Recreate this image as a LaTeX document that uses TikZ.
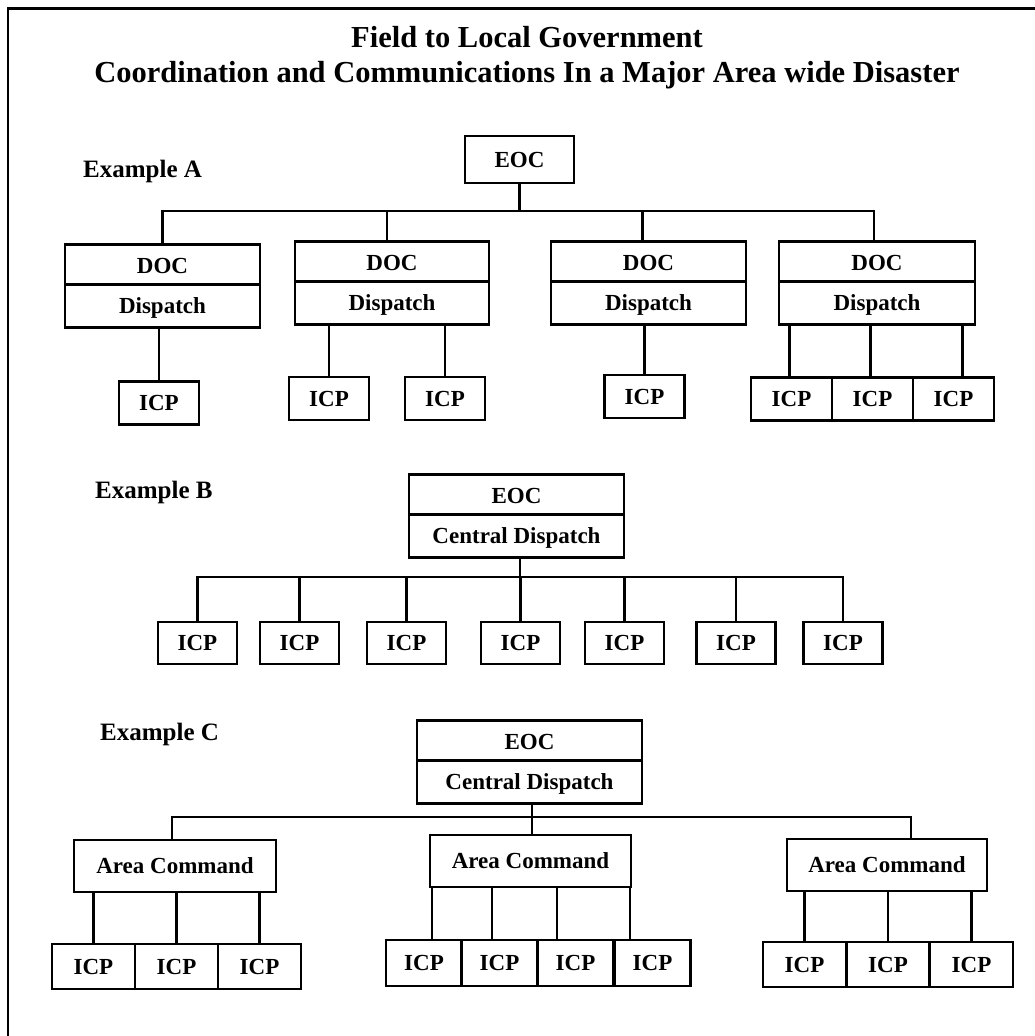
\documentclass[tikz,border=0pt]{standalone}
\usepackage{fontspec}
\setmainfont{Liberation Serif}
\usepackage{tikz}
\usetikzlibrary{shapes.multipart,positioning}
\newcommand{\pstrut}{\rule[-2pt]{0pt}{23pt}}
\tikzset{
  box/.style={draw, line width=2.6pt, text centered, inner sep=0pt,
  minimum height=43pt, font=\bfseries\fontsize{23pt}{23pt}\selectfont,
  text height=15.5pt, text depth=0pt},
  icp/.style={box, minimum width=80pt},
  data/.style={draw, line width=2.6pt, rectangle split,
	rectangle split parts=2, text centered, inner xsep=0pt, inner ysep=7.25pt,
	anchor=north, font=\bfseries\fontsize{23pt}{23pt}\selectfont},
  link/.style={line width=2.2pt},
  titletext/.style={font=\bfseries\fontsize{30.5pt}{30.5pt}\selectfont,
  anchor=base, inner sep=0pt},
  exlabel/.style={font=\bfseries\fontsize{25pt}{25pt}\selectfont,
  anchor=base west, inner sep=0pt}
}
\begin{document}
\begin{tikzpicture}[x=1pt,y=-1pt]
	\useasboundingbox (0,0) rectangle (1034,1036);
	\draw[line width=2.6pt] (8,1040) -- (8,8.5) -- (1040,8.5);
	\node[titletext] (t1) at (527,47) {Field to Local Government};
	\node[titletext] (t2) at (527,82) {Coordination and Communications In a Major Area wide Disaster};

	\node[exlabel] (la) at (83,177) {Example A};
	\node[box, minimum width=109pt, minimum height=47pt] (a0) at (519.5,159.5) {EOC};
	\node[data, minimum width=195pt] (a1) at (162.5,243) {\pstrut DOC \nodepart{two} \pstrut Dispatch};
	\node[data, minimum width=194pt] (a2) at (392,240) {\pstrut DOC \nodepart{two} \pstrut Dispatch};
	\node[data, minimum width=195pt] (a3) at (648.5,240) {\pstrut DOC \nodepart{two} \pstrut Dispatch};
	\node[data, minimum width=196pt] (a4) at (877,240) {\pstrut DOC \nodepart{two} \pstrut Dispatch};
	\coordinate (abus) at (519,211);
	\foreach \n/\dx in {1/0,2/-5,3/-6,4/-3}
		\draw[link] (a0.south) -- (a0.south |- abus) -| ([xshift=\dx pt]a\n.north);
	\node[icp] (i11) at (159,403) {ICP};
	\node[icp] (i21) at (329,398.5) {ICP};
	\node[icp] (i22) at (445,398.5) {ICP};
	\node[icp] (i31) at (644.5,396.5) {ICP};
	\node[icp, minimum width=81pt] (i41) at (791.5,399) {ICP};
	\node[icp, minimum width=81pt] (i42) at (872.5,399) {ICP};
	\node[icp, minimum width=81pt] (i43) at (953.5,399) {ICP};
	\foreach \up/\dn/\dx in {a1/i11/0,a2/i21/0,a2/i22/0,a3/i31/0,a4/i41/-2,a4/i42/-2,a4/i43/9}
		\draw[link] ([xshift=\dx pt]\dn.north) -- ([xshift=\dx pt]\dn.north |- \up.south);

	\node[exlabel] (lb) at (95,498) {Example B};
	\node[data, minimum width=215pt] (b0) at (516.5,473) {\pstrut EOC \nodepart{two} \pstrut Central Dispatch};
	\coordinate (bbus) at (520,577);
	\foreach \n/\x in {1/197.5,2/299.5,3/406.5,4/520.5,5/624.5,6/736,7/843}{
		\node[icp, minimum width=79pt, minimum height=42pt] (b\n) at (\x,643) {ICP};
		\draw[link] ([xshift=3.5pt]b0.south) -- ([xshift=3.5pt]b0.south |- bbus) -| (b\n.north);
	}

	\node[exlabel] (lc) at (100,740) {Example C};
	\node[data, minimum width=225pt] (c0) at (529.5,719) {\pstrut EOC \nodepart{two} \pstrut Central Dispatch};
	\node[box, minimum width=202pt, minimum height=52pt] (c1) at (175,866) {Area Command};
	\node[box, minimum width=201pt, minimum height=52pt] (c2) at (530.5,861) {Area Command};
	\node[box, minimum width=200pt, minimum height=52pt] (c3) at (887,865) {Area Command};
	\coordinate (cbus) at (532,817);
	\foreach \n/\dx in {1/-3,2/1.5,3/24}
		\draw[link] ([xshift=2.5pt]c0.south) -- ([xshift=2.5pt]c0.south |- cbus) -| ([xshift=\dx pt]c\n.north);
	\foreach \n/\x in {1/93.5,2/176.5,3/259.5}
		\node[icp, minimum width=83pt, minimum height=45pt] (ca\n) at (\x,966.5) {ICP};
	\foreach \n/\x in {1/424,2/499.5,3/575.5,4/652.5}
		\node[icp, minimum width=76pt, minimum height=46pt] (cb\n) at (\x,963) {ICP};
	\foreach \n/\x in {1/804.5,2/888,3/971.5}
		\node[icp, minimum width=83pt, minimum height=45pt] (cc\n) at (\x,964.5) {ICP};
	\foreach \n in {1,2,3}
		\draw[link] (ca\n.north) -- (ca\n.north |- c1.south);
	\foreach \n/\dx in {1/8,2/-7.5,3/-18.5,4/-22.5}
		\draw[link] ([xshift=\dx pt]cb\n.north) -- ([xshift=\dx pt]cb\n.north |- c2.south);
	\foreach \n in {1,2,3}
		\draw[link] (cc\n.north) -- (cc\n.north |- c3.south);
\end{tikzpicture}
\end{document}
